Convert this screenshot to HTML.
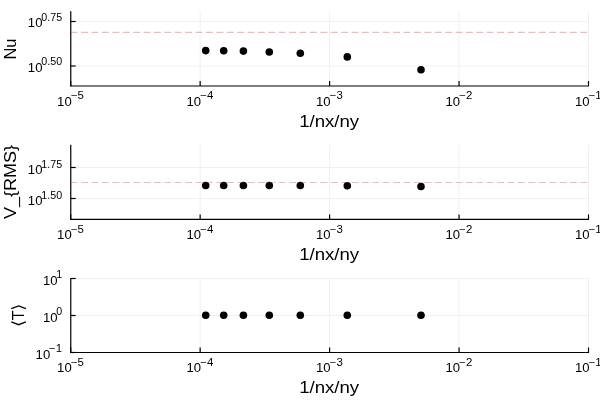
<!DOCTYPE html><html><head><meta charset="utf-8"><style>html,body{margin:0;padding:0;background:#fff;}svg{display:block;will-change:transform;}text{font-family:"Liberation Sans", sans-serif;fill:#000;}</style></head><body>
<svg width="600" height="400" viewBox="0 0 600 400">
<rect width="600" height="400" fill="#fff"/>
<line class="ln" x1="70.7" y1="11.2" x2="70.7" y2="86.0" stroke="#f0f0f0" stroke-width="1"/>
<line class="ln" x1="200.15" y1="11.2" x2="200.15" y2="86.0" stroke="#f0f0f0" stroke-width="1"/>
<line class="ln" x1="329.6" y1="11.2" x2="329.6" y2="86.0" stroke="#f0f0f0" stroke-width="1"/>
<line class="ln" x1="459.05" y1="11.2" x2="459.05" y2="86.0" stroke="#f0f0f0" stroke-width="1"/>
<line class="ln" x1="588.5" y1="11.2" x2="588.5" y2="86.0" stroke="#f0f0f0" stroke-width="1"/>
<line class="ln" x1="70.7" y1="21.5" x2="588.5" y2="21.5" stroke="#f0f0f0" stroke-width="1"/>
<line class="ln" x1="70.7" y1="66.0" x2="588.5" y2="66.0" stroke="#f0f0f0" stroke-width="1"/>
<line class="ln" x1="70.75" y1="11.2" x2="70.75" y2="86.6" stroke="#000" stroke-width="1.2"/>
<line class="ln" x1="70.7" y1="86.0" x2="589.0" y2="86.0" stroke="#000" stroke-width="1.15"/>
<line class="ln" x1="70.7" y1="86.0" x2="70.7" y2="81.0" stroke="#000" stroke-width="1.2"/>
<line class="ln" x1="200.15" y1="86.0" x2="200.15" y2="81.0" stroke="#000" stroke-width="1.2"/>
<line class="ln" x1="329.6" y1="86.0" x2="329.6" y2="81.0" stroke="#000" stroke-width="1.2"/>
<line class="ln" x1="459.05" y1="86.0" x2="459.05" y2="81.0" stroke="#000" stroke-width="1.2"/>
<line class="ln" x1="588.5" y1="86.0" x2="588.5" y2="81.0" stroke="#000" stroke-width="1.2"/>
<line class="ln" x1="70.7" y1="21.5" x2="75.7" y2="21.5" stroke="#000" stroke-width="1.2"/>
<line class="ln" x1="70.7" y1="66.0" x2="75.7" y2="66.0" stroke="#000" stroke-width="1.2"/>
<circle class="ln" cx="205.7" cy="50.6" r="3.8" fill="#000"/>
<circle class="ln" cx="223.7" cy="50.8" r="3.8" fill="#000"/>
<circle class="ln" cx="243.4" cy="51.1" r="3.8" fill="#000"/>
<circle class="ln" cx="269.3" cy="52.0" r="3.8" fill="#000"/>
<circle class="ln" cx="300.3" cy="53.3" r="3.8" fill="#000"/>
<circle class="ln" cx="347.3" cy="56.9" r="3.8" fill="#000"/>
<circle class="ln" cx="421.0" cy="69.7" r="3.8" fill="#000"/>
<line class="ln" x1="70.7" y1="32.45" x2="587.0" y2="32.45" stroke="#ff0000" stroke-opacity="0.29" stroke-width="1.2" stroke-dasharray="7 3.4"/>
<text class="ten" x="71.70" y="105.60" font-size="12.2" text-anchor="end" textLength="14.60" lengthAdjust="spacingAndGlyphs">10</text>
<text class="sup" x="70.90" y="99.10" font-size="10.0" textLength="13.06" lengthAdjust="spacingAndGlyphs">−5</text>
<text class="ten" x="201.15" y="105.60" font-size="12.2" text-anchor="end" textLength="14.60" lengthAdjust="spacingAndGlyphs">10</text>
<text class="sup" x="200.35" y="99.10" font-size="10.0" textLength="13.06" lengthAdjust="spacingAndGlyphs">−4</text>
<text class="ten" x="330.60" y="105.60" font-size="12.2" text-anchor="end" textLength="14.60" lengthAdjust="spacingAndGlyphs">10</text>
<text class="sup" x="329.80" y="99.10" font-size="10.0" textLength="13.06" lengthAdjust="spacingAndGlyphs">−3</text>
<text class="ten" x="460.05" y="105.60" font-size="12.2" text-anchor="end" textLength="14.60" lengthAdjust="spacingAndGlyphs">10</text>
<text class="sup" x="459.25" y="99.10" font-size="10.0" textLength="13.06" lengthAdjust="spacingAndGlyphs">−2</text>
<text class="ten" x="589.50" y="105.60" font-size="12.2" text-anchor="end" textLength="14.60" lengthAdjust="spacingAndGlyphs">10</text>
<text class="sup" x="588.70" y="99.10" font-size="10.0" textLength="13.06" lengthAdjust="spacingAndGlyphs">−1</text>
<text class="sup" x="41.29" y="20.90" font-size="10.0" textLength="20.81" lengthAdjust="spacingAndGlyphs">0.75</text>
<text class="ten" x="42.49" y="27.40" font-size="12.2" text-anchor="end" textLength="14.60" lengthAdjust="spacingAndGlyphs">10</text>
<text class="sup" x="41.29" y="65.40" font-size="10.0" textLength="20.81" lengthAdjust="spacingAndGlyphs">0.50</text>
<text class="ten" x="42.49" y="71.90" font-size="12.2" text-anchor="end" textLength="14.60" lengthAdjust="spacingAndGlyphs">10</text>
<text class="gd" x="329.20" y="126.50" font-size="16" text-anchor="middle" textLength="60.00" lengthAdjust="spacingAndGlyphs">1/nx/ny</text>
<line class="ln" x1="70.7" y1="144.8" x2="70.7" y2="219.4" stroke="#f0f0f0" stroke-width="1"/>
<line class="ln" x1="200.15" y1="144.8" x2="200.15" y2="219.4" stroke="#f0f0f0" stroke-width="1"/>
<line class="ln" x1="329.6" y1="144.8" x2="329.6" y2="219.4" stroke="#f0f0f0" stroke-width="1"/>
<line class="ln" x1="459.05" y1="144.8" x2="459.05" y2="219.4" stroke="#f0f0f0" stroke-width="1"/>
<line class="ln" x1="588.5" y1="144.8" x2="588.5" y2="219.4" stroke="#f0f0f0" stroke-width="1"/>
<line class="ln" x1="70.7" y1="167.5" x2="588.5" y2="167.5" stroke="#f0f0f0" stroke-width="1"/>
<line class="ln" x1="70.7" y1="198.5" x2="588.5" y2="198.5" stroke="#f0f0f0" stroke-width="1"/>
<line class="ln" x1="70.75" y1="144.8" x2="70.75" y2="220.0" stroke="#000" stroke-width="1.2"/>
<line class="ln" x1="70.7" y1="219.4" x2="589.0" y2="219.4" stroke="#000" stroke-width="1.15"/>
<line class="ln" x1="70.7" y1="219.4" x2="70.7" y2="214.4" stroke="#000" stroke-width="1.2"/>
<line class="ln" x1="200.15" y1="219.4" x2="200.15" y2="214.4" stroke="#000" stroke-width="1.2"/>
<line class="ln" x1="329.6" y1="219.4" x2="329.6" y2="214.4" stroke="#000" stroke-width="1.2"/>
<line class="ln" x1="459.05" y1="219.4" x2="459.05" y2="214.4" stroke="#000" stroke-width="1.2"/>
<line class="ln" x1="588.5" y1="219.4" x2="588.5" y2="214.4" stroke="#000" stroke-width="1.2"/>
<line class="ln" x1="70.7" y1="167.5" x2="75.7" y2="167.5" stroke="#000" stroke-width="1.2"/>
<line class="ln" x1="70.7" y1="198.5" x2="75.7" y2="198.5" stroke="#000" stroke-width="1.2"/>
<circle class="ln" cx="205.7" cy="185.5" r="3.8" fill="#000"/>
<circle class="ln" cx="223.7" cy="185.5" r="3.8" fill="#000"/>
<circle class="ln" cx="243.4" cy="185.5" r="3.8" fill="#000"/>
<circle class="ln" cx="269.3" cy="185.5" r="3.8" fill="#000"/>
<circle class="ln" cx="300.3" cy="185.5" r="3.8" fill="#000"/>
<circle class="ln" cx="347.3" cy="185.7" r="3.8" fill="#000"/>
<circle class="ln" cx="421.0" cy="186.5" r="3.8" fill="#000"/>
<line class="ln" x1="70.7" y1="182.5" x2="587.0" y2="182.5" stroke="#ff0000" stroke-opacity="0.29" stroke-width="1.2" stroke-dasharray="7 3.4"/>
<text class="ten" x="71.70" y="239.00" font-size="12.2" text-anchor="end" textLength="14.60" lengthAdjust="spacingAndGlyphs">10</text>
<text class="sup" x="70.90" y="232.50" font-size="10.0" textLength="13.06" lengthAdjust="spacingAndGlyphs">−5</text>
<text class="ten" x="201.15" y="239.00" font-size="12.2" text-anchor="end" textLength="14.60" lengthAdjust="spacingAndGlyphs">10</text>
<text class="sup" x="200.35" y="232.50" font-size="10.0" textLength="13.06" lengthAdjust="spacingAndGlyphs">−4</text>
<text class="ten" x="330.60" y="239.00" font-size="12.2" text-anchor="end" textLength="14.60" lengthAdjust="spacingAndGlyphs">10</text>
<text class="sup" x="329.80" y="232.50" font-size="10.0" textLength="13.06" lengthAdjust="spacingAndGlyphs">−3</text>
<text class="ten" x="460.05" y="239.00" font-size="12.2" text-anchor="end" textLength="14.60" lengthAdjust="spacingAndGlyphs">10</text>
<text class="sup" x="459.25" y="232.50" font-size="10.0" textLength="13.06" lengthAdjust="spacingAndGlyphs">−2</text>
<text class="ten" x="589.50" y="239.00" font-size="12.2" text-anchor="end" textLength="14.60" lengthAdjust="spacingAndGlyphs">10</text>
<text class="sup" x="588.70" y="232.50" font-size="10.0" textLength="13.06" lengthAdjust="spacingAndGlyphs">−1</text>
<text class="sup" x="41.29" y="167.80" font-size="10.0" textLength="20.81" lengthAdjust="spacingAndGlyphs">1.75</text>
<text class="ten" x="42.49" y="173.90" font-size="12.2" text-anchor="end" textLength="14.60" lengthAdjust="spacingAndGlyphs">10</text>
<text class="sup" x="41.29" y="198.80" font-size="10.0" textLength="20.81" lengthAdjust="spacingAndGlyphs">1.50</text>
<text class="ten" x="42.49" y="204.90" font-size="12.2" text-anchor="end" textLength="14.60" lengthAdjust="spacingAndGlyphs">10</text>
<text class="gd" x="329.20" y="259.90" font-size="16" text-anchor="middle" textLength="60.00" lengthAdjust="spacingAndGlyphs">1/nx/ny</text>
<line class="ln" x1="70.7" y1="278" x2="70.7" y2="352.5" stroke="#f0f0f0" stroke-width="1"/>
<line class="ln" x1="200.15" y1="278" x2="200.15" y2="352.5" stroke="#f0f0f0" stroke-width="1"/>
<line class="ln" x1="329.6" y1="278" x2="329.6" y2="352.5" stroke="#f0f0f0" stroke-width="1"/>
<line class="ln" x1="459.05" y1="278" x2="459.05" y2="352.5" stroke="#f0f0f0" stroke-width="1"/>
<line class="ln" x1="588.5" y1="278" x2="588.5" y2="352.5" stroke="#f0f0f0" stroke-width="1"/>
<line class="ln" x1="70.7" y1="278.5" x2="588.5" y2="278.5" stroke="#f0f0f0" stroke-width="1"/>
<line class="ln" x1="70.7" y1="315.5" x2="588.5" y2="315.5" stroke="#f0f0f0" stroke-width="1"/>
<line class="ln" x1="70.7" y1="352.5" x2="588.5" y2="352.5" stroke="#f0f0f0" stroke-width="1"/>
<line class="ln" x1="70.75" y1="278" x2="70.75" y2="353.1" stroke="#000" stroke-width="1.2"/>
<line class="ln" x1="70.7" y1="352.5" x2="589.0" y2="352.5" stroke="#000" stroke-width="1.15"/>
<line class="ln" x1="70.7" y1="352.5" x2="70.7" y2="347.5" stroke="#000" stroke-width="1.2"/>
<line class="ln" x1="200.15" y1="352.5" x2="200.15" y2="347.5" stroke="#000" stroke-width="1.2"/>
<line class="ln" x1="329.6" y1="352.5" x2="329.6" y2="347.5" stroke="#000" stroke-width="1.2"/>
<line class="ln" x1="459.05" y1="352.5" x2="459.05" y2="347.5" stroke="#000" stroke-width="1.2"/>
<line class="ln" x1="588.5" y1="352.5" x2="588.5" y2="347.5" stroke="#000" stroke-width="1.2"/>
<line class="ln" x1="70.7" y1="278.5" x2="75.7" y2="278.5" stroke="#000" stroke-width="1.2"/>
<line class="ln" x1="70.7" y1="315.5" x2="75.7" y2="315.5" stroke="#000" stroke-width="1.2"/>
<line class="ln" x1="70.7" y1="352.5" x2="75.7" y2="352.5" stroke="#000" stroke-width="1.2"/>
<circle class="ln" cx="205.7" cy="315.3" r="3.8" fill="#000"/>
<circle class="ln" cx="223.7" cy="315.3" r="3.8" fill="#000"/>
<circle class="ln" cx="243.4" cy="315.3" r="3.8" fill="#000"/>
<circle class="ln" cx="269.3" cy="315.3" r="3.8" fill="#000"/>
<circle class="ln" cx="300.3" cy="315.3" r="3.8" fill="#000"/>
<circle class="ln" cx="347.3" cy="315.3" r="3.8" fill="#000"/>
<circle class="ln" cx="421.0" cy="315.3" r="3.8" fill="#000"/>
<text class="ten" x="71.70" y="372.10" font-size="12.2" text-anchor="end" textLength="14.60" lengthAdjust="spacingAndGlyphs">10</text>
<text class="sup" x="70.90" y="365.60" font-size="10.0" textLength="13.06" lengthAdjust="spacingAndGlyphs">−5</text>
<text class="ten" x="201.15" y="372.10" font-size="12.2" text-anchor="end" textLength="14.60" lengthAdjust="spacingAndGlyphs">10</text>
<text class="sup" x="200.35" y="365.60" font-size="10.0" textLength="13.06" lengthAdjust="spacingAndGlyphs">−4</text>
<text class="ten" x="330.60" y="372.10" font-size="12.2" text-anchor="end" textLength="14.60" lengthAdjust="spacingAndGlyphs">10</text>
<text class="sup" x="329.80" y="365.60" font-size="10.0" textLength="13.06" lengthAdjust="spacingAndGlyphs">−3</text>
<text class="ten" x="460.05" y="372.10" font-size="12.2" text-anchor="end" textLength="14.60" lengthAdjust="spacingAndGlyphs">10</text>
<text class="sup" x="459.25" y="365.60" font-size="10.0" textLength="13.06" lengthAdjust="spacingAndGlyphs">−2</text>
<text class="ten" x="589.50" y="372.10" font-size="12.2" text-anchor="end" textLength="14.60" lengthAdjust="spacingAndGlyphs">10</text>
<text class="sup" x="588.70" y="365.60" font-size="10.0" textLength="13.06" lengthAdjust="spacingAndGlyphs">−1</text>
<text class="sup" x="56.38" y="277.90" font-size="10.0" textLength="5.92" lengthAdjust="spacingAndGlyphs">1</text>
<text class="ten" x="57.58" y="284.60" font-size="12.2" text-anchor="end" textLength="14.60" lengthAdjust="spacingAndGlyphs">10</text>
<text class="sup" x="56.38" y="314.90" font-size="10.0" textLength="5.92" lengthAdjust="spacingAndGlyphs">0</text>
<text class="ten" x="57.58" y="321.60" font-size="12.2" text-anchor="end" textLength="14.60" lengthAdjust="spacingAndGlyphs">10</text>
<text class="sup" x="49.04" y="351.90" font-size="10.0" textLength="13.06" lengthAdjust="spacingAndGlyphs">−1</text>
<text class="ten" x="50.24" y="358.60" font-size="12.2" text-anchor="end" textLength="14.60" lengthAdjust="spacingAndGlyphs">10</text>
<text class="gd" x="329.20" y="393.00" font-size="16" text-anchor="middle" textLength="60.00" lengthAdjust="spacingAndGlyphs">1/nx/ny</text>
<text class="gd" transform="translate(16.2,49.0) rotate(-90)" font-size="16" text-anchor="middle" textLength="21" lengthAdjust="spacingAndGlyphs">Nu</text>
<text class="gd" transform="translate(16.2,181.9) rotate(-90)" font-size="16" text-anchor="middle" textLength="74" lengthAdjust="spacingAndGlyphs">V<tspan dy="1">_</tspan><tspan dy="-1">{RMS}</tspan></text>
<polyline class="gd" points="11.3,308.7 18.6,305.9 25.9,308.7" fill="none" stroke="#000" stroke-width="1.3"/>
<polyline class="gd" points="11.3,321.9 18.6,324.7 25.9,321.9" fill="none" stroke="#000" stroke-width="1.3"/>
<text class="gd" transform="translate(23.6,315.3) rotate(-90)" font-size="16" text-anchor="middle">T</text>
</svg></body></html>
